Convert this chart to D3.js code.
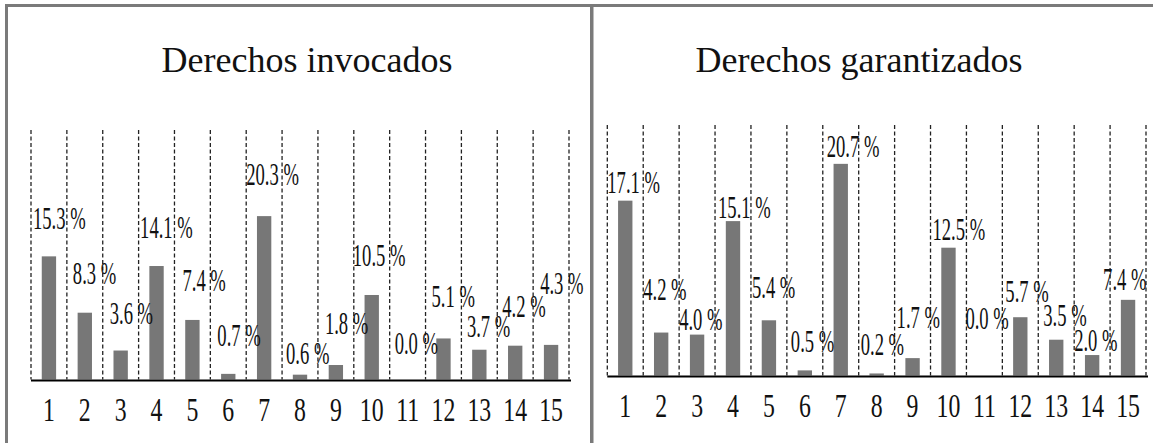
<!DOCTYPE html>
<html><head><meta charset="utf-8">
<script src="https://cdn.jsdelivr.net/npm/d3@7"></script>
<style>body{margin:0;background:#fff}svg{display:block}</style>
</head><body>
<svg id="c" width="1153" height="443"></svg>
<script>
// ---- data ----
const categories = ["1","2","3","4","5","6","7","8","9","10","11","12","13","14","15"];
const invocados = [15.3, 8.3, 3.6, 14.1, 7.4, 0.7, 20.3, 0.6, 1.8, 10.5, 0.0, 5.1, 3.7, 4.2, 4.3];
const garantizados = [17.1, 4.2, 4.0, 15.1, 5.4, 0.5, 20.7, 0.2, 1.7, 12.5, 0.0, 5.7, 3.5, 2.0, 7.4];
const titles = ["Derechos invocados", "Derechos garantizados"];

// ---- layout (label nudges, px) ----
const leftDx  = [2,6,7,1.5,8,7,0,4,7,-1,5,6,5.5,5,7];
const leftLift = [27,29,27,28,29,28,31,11,31,29,26,31,13,29,51];
const rightDx = [0,0,0,3,1,4,4,2,2,2,-1,3,5,0,-7];
const rightLift = [8,33,5,3.5,22,18,7,18.5,30,8,47,15,14,4.5,10];

const svg = d3.select("#c");
const GRAY = "#7a7a7a";
const FONT = "'Liberation Serif','Times New Roman',serif";

// frame
svg.append("rect").attr("x",5).attr("y",4).attr("width",1148).attr("height",3).attr("fill",GRAY);
svg.append("rect").attr("x",5).attr("y",4).attr("width",3).attr("height",439).attr("fill",GRAY);
svg.append("rect").attr("x",590).attr("y",4).attr("width",3.5).attr("height",439).attr("fill",GRAY);

const panels = [
  {values: invocados, title: titles[0], x0: 31, x1: 569, base: 379.5, top: 130, yMax: 31, titleX: 307, dx: leftDx, lift: leftLift},
  {values: garantizados, title: titles[1], x0: 607.3, x1: 1146, base: 375.5, top: 125, yMax: 24.5, titleX: 859, dx: rightDx, lift: rightLift}
];

panels.forEach(p => {
  const g = svg.append("g");
  const x = d3.scaleBand().domain(categories).range([p.x0, p.x1]).paddingInner(0.6).paddingOuter(0.3);
  const y = d3.scaleLinear().domain([0, p.yMax]).range([p.base, p.top]);
  const step = x.step();
  const bounds = categories.map(c => x(c) + x.bandwidth()/2 - step/2);
  bounds.push(bounds[bounds.length-1] + step);

  // title
  g.append("text").attr("x", p.titleX).attr("y", 72).attr("text-anchor","middle")
    .attr("font-family", FONT).attr("font-size", 36).attr("fill","#111").text(p.title);

  // dashed separators
  g.selectAll("line.sep").data(bounds).join("line").attr("class","sep")
    .attr("x1", d=>d).attr("x2", d=>d).attr("y1", y(p.yMax)).attr("y2", y(0))
    .attr("stroke","#222").attr("stroke-width",1.3).attr("stroke-dasharray","4,2.5");

  // bars
  g.selectAll("rect.bar").data(p.values).join("rect").attr("class","bar")
    .attr("x", (d,i)=>x(categories[i])).attr("width", x.bandwidth())
    .attr("y", d=>y(d)).attr("height", d=>y(0)-y(d)).attr("fill","#777");

  // baseline
  g.append("line").attr("x1", bounds[0]).attr("x2", bounds[bounds.length-1]+2)
    .attr("y1", y(0)+1).attr("y2", y(0)+1).attr("stroke","#000").attr("stroke-width",2);

  // value labels
  g.selectAll("text.val").data(p.values).join("text").attr("class","val")
    .attr("transform", (d,i)=>`translate(${bounds[i]+p.dx[i]},${y(d)-p.lift[i]}) scale(0.6,1)`)
    .attr("font-family", FONT).attr("font-size", 31).attr("fill","#111")
    .text(d => d.toFixed(1) + " %");

  // category tick labels
  const axis = d3.axisBottom(x).tickSize(0).tickPadding(0);
  const ax = g.append("g").attr("transform", `translate(0,${y(0)})`).call(axis);
  ax.select(".domain").remove();
  ax.selectAll(".tick text").attr("font-family", FONT).attr("font-size", 34).attr("fill","#111")
    .attr("dy", null).attr("y", 0)
    .attr("transform", "translate(0,41) scale(0.7,1)").attr("text-anchor","middle");
});
</script>
</body></html>
